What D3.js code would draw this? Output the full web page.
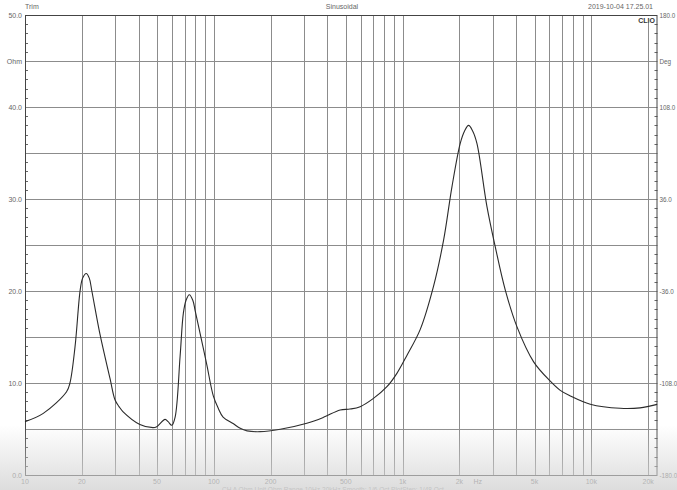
<!DOCTYPE html>
<html>
<head>
<meta charset="utf-8">
<script src="https://cdn.jsdelivr.net/npm/d3@7"></script>
<style>
  body { margin: 0; background: #fff; }
  svg { display: block; font-family: "Liberation Sans", Arial, sans-serif; }
</style>
</head>
<body>
<svg width="677" height="490"></svg>
<script>
// impedance readings (Hz, Ohm)
const freq = [10, 12.5, 16.6, 17.3, 18.4, 19.6, 20.2, 21.1, 21.9, 22.6, 24.9, 28.2, 30, 31.5, 33, 40.6, 47.6, 49.9,
  55.2, 57.3, 59.9, 62.4, 66.3, 69, 71.3, 74.2, 77.4, 79.6, 84.6, 91.8, 99.4, 105.6, 112, 126.5, 138, 150, 176,
  225, 311, 381, 467, 527, 596, 701, 826, 933, 1054, 1239, 1458, 1648, 1825, 2020, 2130, 2236, 2350,
  2476, 2797, 3097, 3500, 4037, 4945, 6058, 6842, 7728, 9860, 14200, 18100, 22300]
const ohm = [5.8, 6.7, 9.05, 10.0, 13.9, 20.1, 21.4, 21.9, 21.4, 20.0, 15.4, 10.5, 8.15, 7.43, 6.9, 5.5, 5.15, 5.25,
  6.05, 5.8, 5.4, 6.3, 12.9, 17.6, 19.0, 19.6, 19.0, 17.9, 15.4, 12.0, 8.6, 7.25, 6.3, 5.6, 5.07, 4.8, 4.71,
  4.97, 5.62, 6.27, 7.07, 7.17, 7.43, 8.33, 9.6, 11.05, 13.0, 15.8, 20.5, 25.5, 31.3, 36.05, 37.4, 38.0, 37.4,
  36.05, 29.2, 24.8, 20.1, 16.1, 12.3, 10.2, 9.2, 8.6, 7.7, 7.25, 7.3, 7.68]

const gridFreqs = [20, 30, 40, 50, 60, 70, 80, 90, 100, 200, 300, 400, 500, 600, 700, 800, 900,
  1000, 2000, 3000, 4000, 5000, 6000, 7000, 8000, 9000, 10000, 20000]
const xLabels = [10, 20, 50, 100, 200, 500, 1000, 2000, 5000, 10000, 20000]
const xLabelText = ["10", "20", "50", "100", "200", "500", "1k", "2k", "5k", "10k", "20k"]
const leftTicks = [0, 10, 20, 30, 40, 45, 50]
const leftText = ["0.0", "10.0", "20.0", "30.0", "40.0", "Ohm", "50.0"]
const rightTicks = [-180, -108, -36, 36, 108, 144, 180]
const rightText = ["-180.0", "-108.0", "-36.0", "36.0", "108.0", "Deg", "180.0"]

const svg = d3.select("svg")
const L = 25, R = 657.5, T = 15, B = 475

const x = d3.scaleLog().domain([10, 22400]).range([L, R])
const y = d3.scaleLinear().domain([0, 50]).range([B, T])
const yR = d3.scaleLinear().domain([-180, 180]).range([B, T])

const grid = svg.append("g").attr("stroke", "#8c8c8c").attr("stroke-width", 1)
grid.selectAll(".vx").data(gridFreqs).enter().append("line")
  .attr("x1", d => Math.round(x(d)) + 0.5).attr("x2", d => Math.round(x(d)) + 0.5)
  .attr("y1", T).attr("y2", B)
grid.selectAll(".hy").data(d3.range(5, 50, 5)).enter().append("line")
  .attr("x1", L).attr("x2", R)
  .attr("y1", d => Math.round(y(d)) + 0.5).attr("y2", d => Math.round(y(d)) + 0.5)

//minor ticks on both sides
const minor = d3.range(1, 50).filter(d => d % 5 != 0)
svg.append("g").attr("stroke", "#666").selectAll("line").data(minor).enter().append("line")
  .attr("x1", L).attr("x2", L + 3)
  .attr("y1", d => Math.round(y(d)) + 0.5).attr("y2", d => Math.round(y(d)) + 0.5)
svg.append("g").attr("stroke", "#666").selectAll("line").data(minor).enter().append("line")
  .attr("x1", R - 3).attr("x2", R)
  .attr("y1", d => Math.round(y(d)) + 0.5).attr("y2", d => Math.round(y(d)) + 0.5)

svg.append("rect").attr("x", L + 0.5).attr("y", T + 0.5)
  .attr("width", R - L - 1).attr("height", B - T)
  .attr("fill", "none").attr("stroke", "#444").attr("stroke-width", 1)

const pts = freq.map((f, i) => [f, ohm[i]])
const line = d3.line().x(d => x(d[0])).y(d => y(d[1])).curve(d3.curveCatmullRom.alpha(0.5))
svg.append("path").datum(pts).attr("d", line)
  .attr("fill", "none").attr("stroke", "#2a2a2a").attr("stroke-width", 1.1)

//axis labels
const lab = svg.append("g").attr("font-size", 7).attr("fill", "#666")
lab.selectAll(".l").data(leftTicks).enter().append("text")
  .attr("x", L - 3).attr("y", d => y(d) + 2.5).attr("text-anchor", "end")
  .text((d, i) => leftText[i])
lab.selectAll(".r").data(rightTicks).enter().append("text")
  .attr("x", R + 2).attr("y", d => yR(d) + 2.5).attr("font-size", 6.3)
  .text((d, i) => rightText[i])
lab.selectAll(".b").data(xLabels).enter().append("text")
  .attr("x", d => x(d)).attr("y", B + 9).attr("text-anchor", "middle")
  .text((d, i) => xLabelText[i])
lab.append("text").attr("x", x(2500)).attr("y", B + 9).attr("text-anchor", "middle").text("Hz")

const head = svg.append("g").attr("font-size", 7).attr("fill", "#666")
head.append("text").attr("x", L).attr("y", 9).text("Trim")
head.append("text").attr("x", 342).attr("y", 9).attr("text-anchor", "middle").text("Sinusoidal")
head.append("text").attr("x", 653).attr("y", 9).attr("text-anchor", "end").text("2019-10-04 17.25.01")
svg.append("rect").attr("x", 639).attr("y", 16).attr("width", 17).attr("height", 7).attr("fill", "#fff")
svg.append("text").attr("x", 655).attr("y", 22.5).attr("text-anchor", "end")
  .attr("font-size", 7).attr("font-weight", "bold").attr("fill", "#333").text("CLIO")

svg.append("text").attr("x", 222).attr("y", 492).attr("font-size", 6.5).attr("fill", "#888")
  .text("CH A  Ohm  Unit Ohm  Range 10Hz-20kHz  Smooth: 1/6 Oct  PlotStep: 1/48 Oct")

//light grey haze at the bottom of the shot
const grad = svg.append("defs").append("linearGradient").attr("id", "haze")
  .attr("x1", 0).attr("y1", 0).attr("x2", 0).attr("y2", 1)
grad.append("stop").attr("offset", 0).attr("stop-color", "#d4d4d4").attr("stop-opacity", 0)
grad.append("stop").attr("offset", 1).attr("stop-color", "#d4d4d4").attr("stop-opacity", 0.8)
svg.append("rect").attr("x", 0).attr("y", 425).attr("width", 677).attr("height", 65)
  .attr("fill", "url(#haze)")
</script>
</body>
</html>
